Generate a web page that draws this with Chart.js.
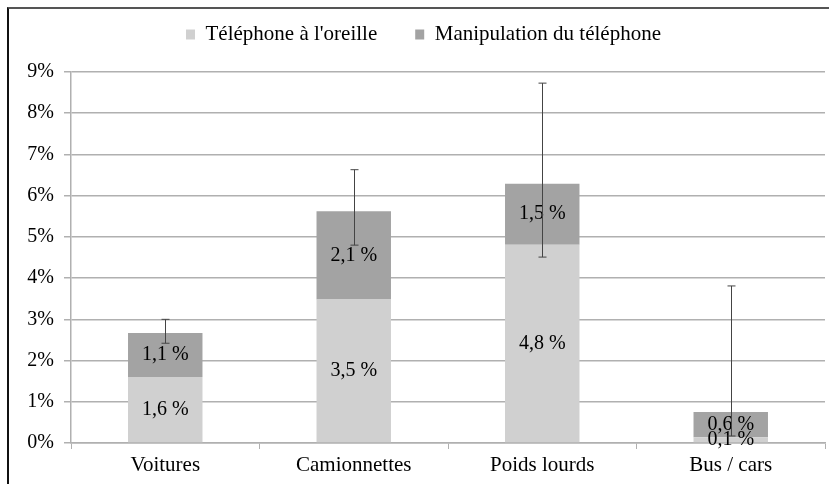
<!DOCTYPE html>
<html>
<head>
<meta charset="utf-8">
<script src="https://cdn.jsdelivr.net/npm/chart.js@4.4.1/dist/chart.umd.min.js"></script>
<style>
  html, body { margin: 0; padding: 0; background: #fff; }
  #wrap { position: relative; width: 829px; height: 484px; overflow: hidden; }
  #frame { position: absolute; left: 7px; top: 7px; width: 900px; height: 600px;
    border-top: 2px solid #555; border-left: 2px solid #111; pointer-events: none; }
</style>
</head>
<body>
<div id="wrap">
  <canvas id="chart" width="829" height="484"></canvas>
  <div id="frame"></div>
</div>
<script>
const categories = ['Voitures', 'Camionnettes', 'Poids lourds', 'Bus / cars']
const seriesNames = ["Téléphone à l'oreille", 'Manipulation du téléphone']
const oreille = [1.6, 3.48, 4.81, 0.14]
const manipulation = [1.07, 2.14, 1.48, 0.61]
// bornes des barres d'erreur (valeurs absolues, en %)
const errLow = [2.42, 4.80, 4.51, 0.17]
const errHigh = [3.0, 6.63, 8.73, 3.81]
const yTicks = [0, 1, 2, 3, 4, 5, 6, 7, 8, 9]

const serif = 'Liberation Serif, Times New Roman, serif'
const gridColor = '#b0b0b0'

// étiquettes de valeur au centre de chaque segment
const valueLabels = {
  id: 'valueLabels',
  afterDatasetsDraw (chart) {
    const ctx = chart.ctx
    ctx.save()
    ctx.font = `20px ${serif}`
    ctx.fillStyle = '#000'
    ctx.textAlign = 'center'
    ctx.textBaseline = 'middle'
    chart.data.datasets.forEach((ds, di) => {
      chart.getDatasetMeta(di).data.forEach((bar, i) => {
        const { x, y, base } = bar.getProps(['x', 'y', 'base'], true)
        const txt = ds.data[i].toFixed(1).replace('.', ',') + ' %'
        ctx.fillText(txt, x, (y + base) / 2)
      })
    })
    ctx.restore()
  }
}

// barres d'erreur sur le total
const errorBars = {
  id: 'errorBars',
  afterDatasetsDraw (chart) {
    const ctx = chart.ctx
    const yScale = chart.scales.y
    ctx.save()
    ctx.strokeStyle = '#444'
    ctx.lineWidth = 1
    chart.getDatasetMeta(1).data.forEach((bar, i) => {
      const x = Math.round(bar.x) + 0.5
      const y1 = yScale.getPixelForValue(errLow[i])
      const y2 = yScale.getPixelForValue(errHigh[i])
      ctx.beginPath()
      ctx.moveTo(x, y1)
      ctx.lineTo(x, y2)
      ctx.moveTo(x - 4, y1)
      ctx.lineTo(x + 4, y1)
      ctx.moveTo(x - 4, y2)
      ctx.lineTo(x + 4, y2)
      ctx.stroke()
    })
    ctx.restore()
  }
}

// un peu d'espace sous la légende
const legendSpace = {
  id: 'legendSpace',
  beforeInit (chart) {
    const fit = chart.legend.fit
    chart.legend.fit = function () {
      fit.bind(chart.legend)()
      this.height += 17
    }
  }
}

new Chart(document.getElementById('chart'), {
  type: 'bar',
  data: {
    labels: categories,
    datasets: [
      { label: seriesNames[0], data: oreille, backgroundColor: '#d0d0d0', borderWidth: 0 },
      { label: seriesNames[1], data: manipulation, backgroundColor: '#a3a3a3', borderWidth: 0 }
    ]
  },
  options: {
    responsive: false,
    animation: false,
    devicePixelRatio: 1,
    layout: { padding: { top: -14, left: 22, right: 4, bottom: 0 } },
    datasets: { bar: { categoryPercentage: 1, barPercentage: 0.395 } },
    plugins: {
      legend: {
        position: 'top',
        labels: {
          boxWidth: 9,
          boxHeight: 10,
          padding: 38,
          color: '#000',
          font: { family: serif, size: 21 }
        }
      },
      tooltip: { enabled: false }
    },
    scales: {
      x: {
        stacked: true,
        grid: { offset: true, drawOnChartArea: false, drawTicks: true, tickLength: 6, color: gridColor, lineWidth: 1 },
        border: { color: gridColor, width: 1.5 },
        ticks: { color: '#000', font: { family: serif, size: 21 }, padding: 4 },
        afterFit: (scale) => { scale.height = 41 }
      },
      y: {
        stacked: true,
        min: yTicks[0],
        max: yTicks[yTicks.length - 1],
        afterBuildTicks: (scale) => { scale.ticks = yTicks.map(v => ({ value: v })) },
        grid: { color: gridColor, lineWidth: 1.5, tickLength: 7 },
        border: { color: gridColor, width: 1.5 },
        ticks: { color: '#000', font: { family: serif, size: 20 }, padding: 10, callback: v => v + '%' },
        afterFit: (scale) => { scale.width = 49 }
      }
    }
  },
  plugins: [legendSpace, valueLabels, errorBars]
})
</script>
</body>
</html>
